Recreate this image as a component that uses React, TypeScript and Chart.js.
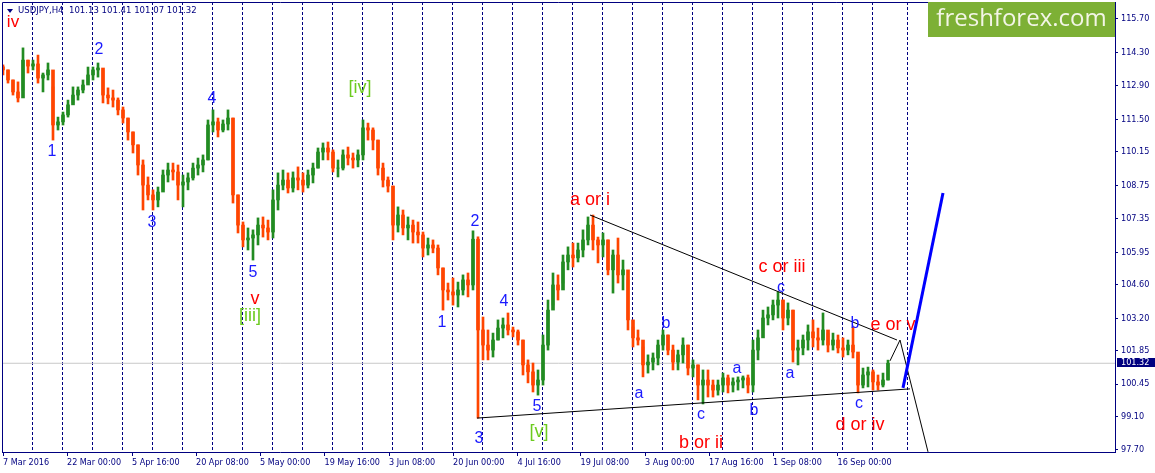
import React, { useEffect, useRef } from "react";
import { Chart, registerables } from "chart.js";

Chart.register(...registerables);

// ---- USDJPY H4 price data (each candle groups 5 H4 bars) ----
const firstOpen = 113.7;
const highs = [
  113.78, 113.57, 113.15, 113.07, 114.49, 113.98, 113.98, 114.19, 113.44, 113.86,
  112.86, 111.6, 111.81, 112.31, 112.86, 112.86, 113.15, 113.69, 113.69, 113.86,
  113.57, 112.82, 112.73, 112.4, 112.02, 111.56, 110.98, 110.44, 109.81, 109.1,
  108.56, 108.68, 109.39, 109.68, 109.68, 109.6, 109.18, 109.27, 109.68, 109.89,
  110.02, 111.48, 111.9, 111.56, 111.48, 111.9, 111.56, 108.35, 107.22, 106.97,
  106.89, 107.39, 107.43, 107.3, 108.56, 109.27, 109.39, 109.27, 109.31, 109.52,
  109.27, 109.39, 109.68, 110.31, 110.52, 110.56, 110.23, 109.81, 110.23, 110.35,
  110.1, 110.23, 111.48, 111.35, 111.15, 110.64, 109.68, 109.1, 108.72, 107.85,
  107.72, 107.43, 107.3, 107.22, 106.8, 106.55, 106.47, 106.26, 105.3, 104.67,
  104.88, 104.71, 105.01, 105.09, 106.85, 106.6, 103.25, 102.71, 102.58, 103.13,
  103.21, 103.42, 102.83, 102.71, 102.29, 101.46, 101.33, 101.04, 102.5, 103.96,
  105.09, 105.01, 105.84, 106.18, 106.34, 106.34, 106.89, 107.43, 107.51, 106.59,
  106.76, 106.47, 106.05, 106.55, 105.63, 104.8, 102.83, 102.71, 102.0, 101.67,
  101.75, 102.29, 102.71, 102.5, 102.08, 101.87, 102.38, 102.08, 101.46, 101.25,
  101.04, 101.04, 100.62, 100.62, 100.91, 100.83, 100.71, 100.75, 100.79, 100.83,
  102.29, 102.71, 103.54, 103.67, 103.96, 104.3, 103.96, 103.84, 103.54, 102.29,
  102.5, 102.92, 103.13, 102.79, 103.42, 102.58, 102.58, 102.5, 102.38, 102.29,
  102.83, 101.67, 101.12, 101.16, 101.04, 100.83, 100.91, 101.45,
];
const lows = [
  113.36, 113.02, 112.52, 112.23, 112.73, 113.44, 113.57, 113.02, 112.65, 113.15,
  110.64, 111.06, 111.27, 111.6, 112.19, 112.31, 112.61, 113.02, 113.15, 113.27,
  112.19, 112.15, 112.02, 111.69, 111.35, 110.64, 110.1, 109.18, 107.72, 108.14,
  107.72, 107.85, 108.56, 108.89, 108.97, 108.14, 107.85, 108.56, 108.97, 109.18,
  109.31, 109.81, 110.98, 110.77, 110.98, 111.06, 108.01, 106.76, 106.18, 106.05,
  105.63, 106.26, 106.59, 106.47, 106.55, 107.72, 108.56, 108.43, 108.47, 108.56,
  108.47, 108.64, 108.85, 109.47, 109.81, 109.81, 109.31, 109.1, 109.39, 109.6,
  109.47, 109.52, 109.81, 110.64, 110.23, 109.18, 108.68, 108.47, 106.47, 106.8,
  106.68, 106.47, 106.34, 106.34, 105.76, 105.84, 105.93, 105.01, 103.54, 103.96,
  103.75, 103.67, 104.17, 104.09, 104.38, 99.03, 101.46, 101.46, 101.58, 102.29,
  102.38, 102.5, 102.42, 102.08, 100.83, 100.5, 100.12, 99.99, 100.41, 101.87,
  103.75, 103.96, 104.67, 105.22, 105.34, 105.55, 105.76, 106.26, 106.05, 105.51,
  105.76, 105.01, 104.25, 104.67, 104.38, 102.71, 102.0, 102.08, 100.75, 100.91,
  101.04, 101.25, 101.87, 101.67, 101.04, 101.04, 101.33, 100.83, 100.75, 99.79,
  99.62, 99.91, 99.91, 99.99, 100.12, 100.08, 100.12, 100.2, 100.29, 100.08,
  100.12, 101.46, 102.71, 102.92, 103.13, 103.21, 102.71, 102.92, 101.37, 101.25,
  101.67, 101.87, 102.0, 101.87, 102.08, 101.79, 101.87, 101.75, 101.58, 101.67,
  101.54, 100.08, 100.29, 100.33, 100.2, 100.2, 100.33, 100.62,
];
const closes = [
  113.57, 113.15, 112.65, 112.4, 113.98, 113.73, 113.82, 113.23, 113.36, 113.57,
  111.27, 111.4, 111.69, 112.11, 112.52, 112.73, 112.94, 113.36, 113.57, 113.65,
  112.52, 112.4, 112.31, 111.9, 111.56, 110.98, 110.44, 109.6, 108.76, 108.35,
  108.14, 108.47, 109.18, 109.39, 109.31, 108.76, 108.89, 109.06, 109.47, 109.6,
  109.81, 111.27, 111.4, 111.06, 111.31, 111.56, 108.35, 107.09, 106.47, 106.55,
  106.68, 107.09, 106.97, 106.8, 108.14, 108.76, 108.97, 108.64, 109.06, 108.97,
  108.76, 109.18, 109.47, 110.14, 110.31, 110.14, 109.47, 109.47, 110.02, 109.89,
  109.81, 110.02, 111.15, 111.06, 110.64, 109.47, 108.97, 108.72, 107.09, 107.51,
  106.97, 107.09, 106.8, 106.68, 106.13, 106.26, 106.13, 105.3, 104.38, 104.3,
  104.17, 104.38, 104.8, 104.59, 106.5, 102.71, 102.08, 101.87, 102.29, 102.79,
  102.92, 102.71, 102.63, 102.29, 101.25, 100.96, 100.41, 100.62, 102.08, 103.54,
  104.59, 104.38, 105.55, 105.84, 105.72, 106.05, 106.47, 107.09, 106.47, 106.26,
  106.47, 105.22, 105.84, 105.01, 105.22, 103.13, 102.38, 102.29, 101.25, 101.37,
  101.54, 102.08, 102.5, 101.87, 101.37, 101.67, 102.08, 101.12, 101.25, 100.41,
  100.62, 100.41, 100.2, 100.41, 100.71, 100.41, 100.54, 100.62, 100.71, 100.41,
  101.87, 102.38, 103.21, 103.34, 103.75, 103.96, 103.21, 103.54, 101.87, 101.96,
  102.29, 102.63, 102.38, 102.29, 102.71, 102.08, 102.29, 101.96, 101.87, 102.08,
  101.79, 100.41, 100.83, 100.96, 100.54, 100.41, 100.62, 101.32,
];
const BARS_PER_CANDLE = 5; // x axis unit = one H4 bar

// ---- axes ----
const dateTickBars = [1, 65, 130, 194, 258, 322.5, 387, 451, 515.5, 578.5, 643, 707, 771, 835.5];
const dateLabels = [
  "7 Mar 2016", "22 Mar 00:00", "5 Apr 16:00", "20 Apr 08:00", "5 May 00:00",
  "19 May 16:00", "3 Jun 08:00", "20 Jun 00:00", "4 Jul 16:00", "19 Jul 08:00",
  "3 Aug 00:00", "17 Aug 16:00", "1 Sep 08:00", "16 Sep 00:00",
];
const weekSeparators = [
  30, 60, 90, 120, 150, 180, 210, 240, 270, 300, 330, 360, 390, 420, 450,
  480, 510, 540, 570, 600, 630, 660, 690, 720, 750, 780, 810, 840, 870, 905,
];
const priceTicks = [97.7, 99.1, 100.45, 101.85, 103.2, 104.6, 105.95, 107.35, 108.75, 110.15, 111.5, 112.9, 114.3, 115.7];
const xRange = [0, 1113];
const yRange = [97.614, 116.406];

// ---- drawn objects (bar index, price) ----
const upperTrend = [ { x: 588, y: 107.51 }, { x: 895, y: 102.29 } ];
const lowerTrend = [ { x: 475, y: 99.03 }, { x: 908, y: 100.25 } ];
const finalWave = [ { x: 888, y: 101.42 }, { x: 898, y: 102.29 }, { x: 926, y: 97.62 } ];
const projection = [ { x: 901, y: 100.29 }, { x: 941, y: 108.43 } ];

const BLUE = "#1a1aff";
const RED = "#ff0000";
const GREEN = "#6ccb1f";
const waveLabels = [
  { t: "iv", x: 11, y: 115.36, c: RED, s: 17 },
  { t: "1", x: 50, y: 109.98, c: BLUE, s: 16 },
  { t: "2", x: 97, y: 114.24, c: BLUE, s: 16 },
  { t: "3", x: 150, y: 107.01, c: BLUE, s: 16 },
  { t: "4", x: 210, y: 112.19, c: BLUE, s: 16 },
  { t: "5", x: 251, y: 104.92, c: BLUE, s: 16 },
  { t: "v", x: 253, y: 103.8, c: RED, s: 18 },
  { t: "[iii]", x: 248, y: 103.09, c: GREEN, s: 18 },
  { t: "[iv]", x: 358, y: 112.61, c: GREEN, s: 18 },
  { t: "1", x: 440, y: 102.83, c: BLUE, s: 16 },
  { t: "2", x: 473, y: 107.05, c: BLUE, s: 16 },
  { t: "3", x: 477, y: 97.99, c: BLUE, s: 16 },
  { t: "4", x: 502, y: 103.71, c: BLUE, s: 16 },
  { t: "5", x: 535, y: 99.33, c: BLUE, s: 16 },
  { t: "[v]", x: 537, y: 98.24, c: GREEN, s: 18 },
  { t: "a or i", x: 588, y: 107.93, c: RED, s: 18 },
  { t: "b", x: 664, y: 102.79, c: BLUE, s: 16 },
  { t: "a", x: 637, y: 99.87, c: BLUE, s: 16 },
  { t: "c", x: 699, y: 98.99, c: BLUE, s: 16 },
  { t: "b or ii", x: 699, y: 97.78, c: RED, s: 18 },
  { t: "a", x: 735, y: 100.91, c: BLUE, s: 16 },
  { t: "b", x: 752, y: 99.16, c: BLUE, s: 16 },
  { t: "c or iii", x: 780, y: 105.13, c: RED, s: 18 },
  { t: "c", x: 779, y: 104.3, c: BLUE, s: 16 },
  { t: "a", x: 788, y: 100.71, c: BLUE, s: 16 },
  { t: "b", x: 853, y: 102.79, c: BLUE, s: 16 },
  { t: "e or v", x: 891, y: 102.71, c: RED, s: 18 },
  { t: "c", x: 857, y: 99.45, c: BLUE, s: 16 },
  { t: "d or iv", x: 858, y: 98.53, c: RED, s: 18 },
];

const NAVY = "#000080";
const UP = "#228b22";
const DOWN = "#ff4500";
const AXIS_FONT = '"DejaVu Sans Condensed", "DejaVu Sans", sans-serif';

export default function App() {
  const ref = useRef<HTMLCanvasElement | null>(null);
  useEffect(() => {
    const canvas = ref.current;
    if (!canvas) return;
    const opens = closes.map((_, i) => (i === 0 ? firstOpen : closes[i - 1]));
    const xs = closes.map((_, i) => 1 + BARS_PER_CANDLE * i);
    const colors = closes.map((c, i) => (c >= opens[i] ? UP : DOWN));
    const lastClose = closes[closes.length - 1];

    const overlay = {
      id: "overlay",
      afterDatasetsDraw(chart: any) {
        const { ctx, scales } = chart;
        const sx = scales.x, sy = scales.y;
        ctx.save();
        ctx.textAlign = "center";
        ctx.textBaseline = "alphabetic";
        for (const l of waveLabels) {
          ctx.font = `${l.s}px "Liberation Sans", Arial, sans-serif`;
          ctx.fillStyle = l.c;
          ctx.fillText(l.t, sx.getPixelForValue(l.x), sy.getPixelForValue(l.y));
        }
        ctx.restore();
      },
      afterDraw(chart: any) {
        const { ctx, chartArea, scales } = chart;
        const { left, top, right, bottom } = chartArea;
        ctx.save();
        // frame
        ctx.strokeStyle = NAVY;
        ctx.lineWidth = 1;
        ctx.beginPath();
        ctx.moveTo(left + 0.5, bottom);
        ctx.lineTo(left + 0.5, top + 0.5);
        ctx.lineTo(right, top + 0.5);
        ctx.stroke();
        // title
        ctx.fillStyle = NAVY;
        ctx.beginPath();
        ctx.moveTo(7, 9);
        ctx.lineTo(13, 9);
        ctx.lineTo(10, 13);
        ctx.closePath();
        ctx.fill();
        ctx.font = `9.5px ${AXIS_FONT}`;
        ctx.textBaseline = "middle";
        ctx.textAlign = "left";
        ctx.fillText("USDJPY,H4  101.13 101.41 101.07 101.32", 18, 11);
        // logo
        ctx.fillStyle = "#7db035";
        ctx.fillRect(928, top, right - 928, 35);
        ctx.fillStyle = "#f3f5e6";
        ctx.font = '24px "Open Sans", "Noto Sans", sans-serif';
        ctx.textAlign = "center";
        ctx.textBaseline = "middle";
        ctx.fillText("freshforex.com", (928 + right) / 2, top + 17);
        // current price box
        const py = scales.y.getPixelForValue(lastClose);
        ctx.fillStyle = NAVY;
        ctx.fillRect(right + 2, Math.round(py) - 5, 1155 - right - 2, 9);
        ctx.fillStyle = "#ffffff";
        ctx.font = `9px ${AXIS_FONT}`;
        ctx.textAlign = "left";
        ctx.fillText(lastClose.toFixed(2), right + 6, Math.round(py));
        ctx.restore();
      },
    };

    const chart = new Chart(canvas, {
      type: "bar",
      data: {
        datasets: [
          {
            type: "line",
            data: [ { x: xRange[0], y: lastClose }, { x: xRange[1], y: lastClose } ],
            borderColor: "#c8c8c8",
            borderWidth: 1,
            pointRadius: 0,
            order: 10,
          } as any,
          {
            data: xs.map((x, i) => ({ x, y: [lows[i], highs[i]] })),
            backgroundColor: colors,
            borderWidth: 0,
            barThickness: 2,
            grouped: false,
            order: 6,
          } as any,
          {
            data: xs.map((x, i) => ({ x, y: [opens[i], closes[i]] })),
            backgroundColor: colors,
            borderWidth: 0,
            barThickness: 3,
            grouped: false,
            order: 5,
          } as any,
          { type: "line", data: upperTrend, borderColor: "#000000", borderWidth: 1, pointRadius: 0, order: 2 } as any,
          { type: "line", data: lowerTrend, borderColor: "#000000", borderWidth: 1, pointRadius: 0, order: 2 } as any,
          { type: "line", data: finalWave, borderColor: "#000000", borderWidth: 1, pointRadius: 0, order: 2 } as any,
          { type: "line", data: projection, borderColor: "#0000ff", borderWidth: 3, pointRadius: 0, order: 1 } as any,
        ],
      },
      options: {
        responsive: false,
        animation: false,
        devicePixelRatio: 1,
        layout: { padding: { left: 2, top: 2, right: 0, bottom: 0 } },
        plugins: { legend: { display: false }, tooltip: { enabled: false } },
        scales: {
          x: {
            type: "linear",
            position: "bottom",
            min: xRange[0],
            max: xRange[1],
            offset: false,
            grid: { offset: false, drawOnChartArea: false, drawTicks: true, tickLength: 4, color: NAVY },
            border: { display: true, color: NAVY, width: 1 },
            afterBuildTicks: (s: any) => { s.ticks = dateTickBars.map((v) => ({ value: v })); },
            afterFit: (s: any) => { s.height = 21; s.paddingLeft = 0; s.paddingRight = 0; },
            ticks: {
              autoSkip: false,
              maxRotation: 0,
              minRotation: 0,
              align: "start",
              padding: 1,
              color: NAVY,
              font: { family: AXIS_FONT, size: 9 },
              callback: (_v: any, i: number) => dateLabels[i],
            },
          },
          week: {
            type: "linear",
            position: "top",
            min: xRange[0],
            max: xRange[1],
            offset: false,
            grid: { offset: false, drawOnChartArea: true, drawTicks: false, color: NAVY, lineWidth: 1 },
            border: { display: false, dash: [3, 2] },
            ticks: { display: false },
            afterBuildTicks: (s: any) => { s.ticks = weekSeparators.map((v) => ({ value: v })); },
            afterFit: (s: any) => { s.height = 0; s.paddingLeft = 0; s.paddingRight = 0; },
          },
          y: {
            type: "linear",
            position: "right",
            min: yRange[0],
            max: yRange[1],
            grid: { drawOnChartArea: false, drawTicks: true, tickLength: 3, color: NAVY },
            border: { display: true, color: NAVY, width: 1 },
            afterBuildTicks: (s: any) => { s.ticks = priceTicks.map((v) => ({ value: v })); },
            afterFit: (s: any) => { s.width = 40; s.paddingTop = 0; s.paddingBottom = 0; },
            ticks: {
              padding: 3,
              color: NAVY,
              font: { family: AXIS_FONT, size: 9 },
              callback: (v: any) => Number(v).toFixed(2),
            },
          },
        },
      } as any,
      plugins: [overlay],
    });
    return () => chart.destroy();
  }, []);

  return (
    <div style={{ position: "absolute", left: 0, top: 0, width: 1155, height: 473, background: "#ffffff" }}>
      <canvas ref={ref} width={1155} height={473} style={{ display: "block" }} />
    </div>
  );
}
